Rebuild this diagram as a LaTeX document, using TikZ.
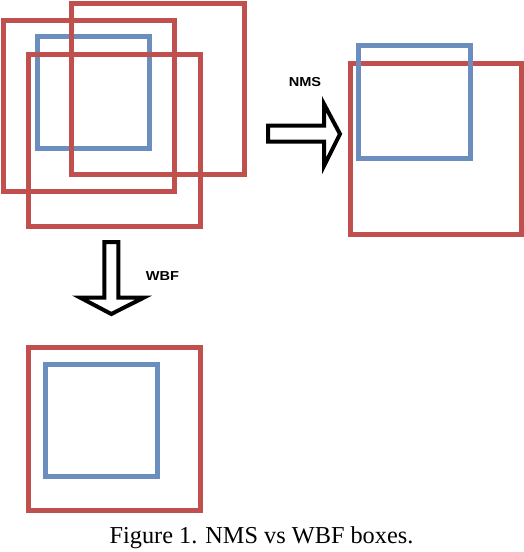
\documentclass[tikz,border=0pt]{standalone}
\usepackage{fontspec}
\setmainfont{Liberation Serif}
\newfontfamily\lblfont{Liberation Sans}
\definecolor{boxred}{RGB}{192,80,77}
\definecolor{boxblue}{RGB}{108,142,191}
\begin{document}
\begin{tikzpicture}[x=1pt,y=-1pt,
  redbox/.style={draw=boxred,line width=5pt},
  bluebox/.style={draw=boxblue,line width=5pt},
  blockarrow/.style={draw=black,fill=white,line width=4pt,line join=miter,miter limit=20},
  lbl/.style={font=\lblfont\bfseries\fontsize{13}{13}\selectfont,xscale=1.12,inner sep=0pt},
  captionstyle/.style={font=\fontsize{24.3}{25}\selectfont,inner sep=0pt,anchor=base}]
\useasboundingbox (0,0) rectangle (524,552);
% left cluster
\draw[bluebox] (37,36.5) rectangle (149.5,148.5);
\draw[redbox] (3,20.5) rectangle (174.5,191.5);
\draw[redbox] (71.5,3.5) rectangle (244.5,174.5);
\draw[redbox] (28.5,54.5) rectangle (200.5,226.5);
% right cluster (NMS)
\draw[redbox] (350,63.3) rectangle (521.5,234);
\draw[bluebox] (358.7,45.8) rectangle (470.8,158.2);
% bottom cluster (WBF)
\draw[redbox] (28.2,347.5) rectangle (200.8,510.2);
\draw[bluebox] (45.8,364.8) rectangle (157.5,476.8);
% NMS arrow
\draw[blockarrow] (268,125.5) -- (324,125.5) -- (324,104) -- (340,134) -- (324,166) -- (324,141.5) -- (268,141.5) -- cycle;
\node[lbl] (nms) at (305,82.5) {NMS};
% WBF arrow
\draw[blockarrow] (104.3,242) -- (118.3,242) -- (118.3,297.5) -- (144,297.5) -- (111.3,314) -- (80,297.5) -- (104.3,297.5) -- cycle;
\node[lbl] (wbf) at (162.5,276) {WBF};
% caption
\node[captionstyle] (cap) at (261.5,543.5) {Figure 1. NMS vs WBF boxes.};
\end{tikzpicture}
\end{document}
